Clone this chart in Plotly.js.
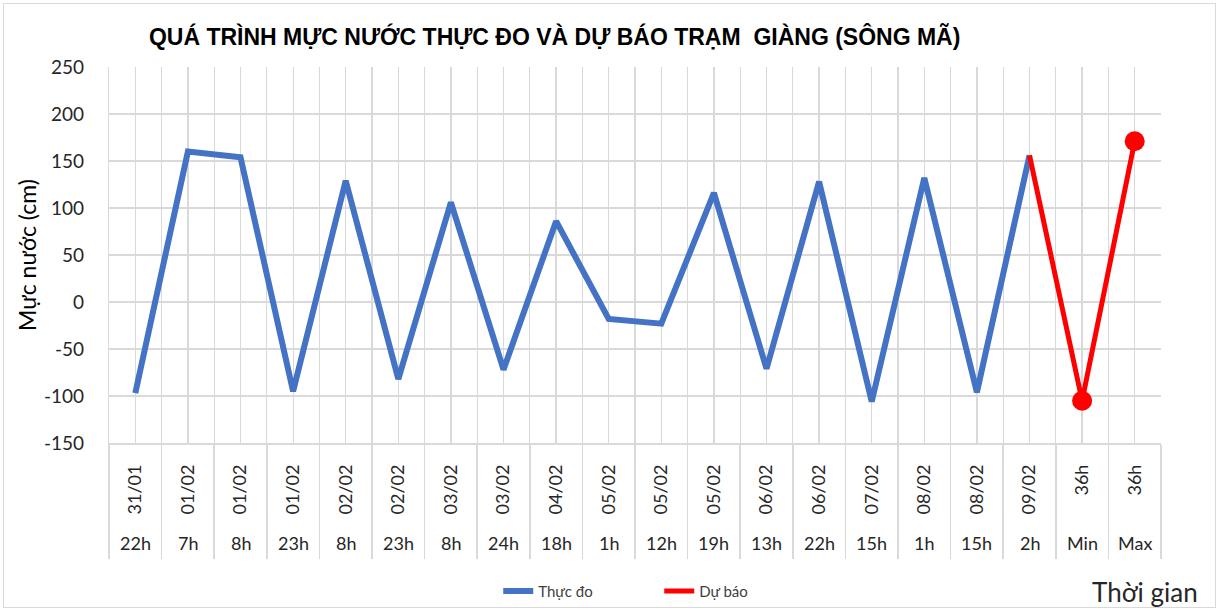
<!DOCTYPE html>
<html>
<head>
<meta charset="utf-8">
<script src="https://cdn.plot.ly/plotly-3.0.1.min.js"></script>
<style>
  html, body { margin: 0; padding: 0; background: #fff; }
  #wrap { position: relative; width: 1219px; height: 609px; }
  #chart { width: 1219px; height: 609px; }
  #frame { position: absolute; left: 3px; top: 3px; width: 1211px; height: 603px; border: 1px solid #d9d9d9; pointer-events: none; }
</style>
</head>
<body>
<div id="wrap"><div id="chart"></div><div id="frame"></div></div>
<script>
// Category labels (two levels)
const dates = ["31/01","01/02","01/02","01/02","02/02","02/02","03/02","03/02","04/02","05/02","05/02","05/02","06/02","06/02","07/02","08/02","08/02","09/02","36h","36h"];
const hours = ["22h","7h","8h","23h","8h","23h","8h","24h","18h","1h","12h","19h","13h","22h","15h","1h","15h","2h","Min","Max"];

// Y tick labels
const yTickVals = [-150, -100, -50, 0, 50, 100, 150, 200, 250];
const yTickText = ["-150", "-100", "-50", "0", "50", "100", "150", "200", "250"];

// Series values (cm)
const thucDo = [-97, 160, 154, -95, 129, -82, 106, -72, 86, -18, -23, 116, -71, 128, -106, 132, -96, 156, null, null];
const duBao  = [null, null, null, null, null, null, null, null, null, null, null, null, null, null, null, null, null, 156, -105, 171];
const duBaoMarker = [0,0,0,0,0,0,0,0,0,0,0,0,0,0,0,0,0,0,20,20];

const idx = dates.map((_, i) => i);
const bounds = [];
for (let i = 0; i <= dates.length; i++) bounds.push(i - 0.5);

const FONT = "Lato, 'Open Sans', sans-serif";

const traces = [
  {
    x: idx, y: thucDo, name: "Thực đo", type: "scatter", mode: "lines",
    line: { color: "#4472C4", width: 6 }, connectgaps: false, xaxis: "x", yaxis: "y"
  },
  {
    x: idx, y: duBao, name: "Dự báo", type: "scatter", mode: "lines+markers",
    line: { color: "#FF0000", width: 5 },
    marker: { color: "#FF0000", size: duBaoMarker, opacity: 1, line: { width: 0 } }, xaxis: "x", yaxis: "y"
  },
  {
    x: idx, y: idx.map(() => null), showlegend: false, hoverinfo: "skip",
    type: "scatter", mode: "lines", xaxis: "x2", yaxis: "y"
  }
];

const annotations = hours.map((h, i) => ({
  x: i, xref: "x", y: -0.266, yref: "paper", text: h, showarrow: false,
  font: { family: FONT, size: 18, color: "#262626" }, xanchor: "center", yanchor: "middle"
}));
annotations.push({
  x: 0.985, xref: "paper", y: -0.397, yref: "paper", text: "Thời gian", showarrow: false,
  font: { family: FONT, size: 26, color: "#262626" }, xanchor: "center", yanchor: "middle"
});

const layout = {
  width: 1219, height: 609,
  margin: { l: 109, r: 58, t: 67, b: 166, autoexpand: false },
  paper_bgcolor: "rgba(0,0,0,0)", plot_bgcolor: "#fff",
  font: { family: FONT, color: "#262626" },
  title: {
    text: "<b>QUÁ TRÌNH MỰC NƯỚC THỰC ĐO VÀ DỰ BÁO TRẠM  GIÀNG (SÔNG MÃ)</b>",
    font: { family: "'Liberation Sans', Arial, sans-serif", size: 23, color: "#000" },
    x: 0.455, xref: "container", xanchor: "center", y: 0.94, yref: "container", yanchor: "middle"
  },
  showlegend: true,
  legend: {
    orientation: "h", x: 0.37, xanchor: "left", y: -0.394, yanchor: "middle",
    font: { family: FONT, size: 15, color: "#404040" },
    entrywidth: 116, entrywidthmode: "pixels"
  },
  xaxis: {
    range: [-0.5, dates.length - 0.5], tickmode: "array", tickvals: bounds,
    ticktext: bounds.map(() => ""), showticklabels: false, automargin: false,
    ticks: "outside", ticklen: 114, tickwidth: 1.5, tickcolor: "#d9d9d9",
    showgrid: true, gridcolor: "#d9d9d9", gridwidth: 1.2,
    showline: true, linecolor: "#d9d9d9", linewidth: 1.5, zeroline: false, fixedrange: true
  },
  xaxis2: {
    overlaying: "x", anchor: "y", side: "bottom", automargin: false,
    range: [-0.5, dates.length - 0.5], tickmode: "array", tickvals: idx, ticktext: dates,
    tickangle: -90, ticks: "", ticklabelstandoff: 17,
    tickfont: { family: FONT, size: 18, color: "#262626" },
    showgrid: true, gridcolor: "#d9d9d9", gridwidth: 1.2, showline: false, zeroline: false
  },
  yaxis: {
    range: [-150, 250], tickmode: "array", tickvals: yTickVals, ticktext: yTickText, automargin: false,
    tickfont: { family: FONT, size: 19, color: "#262626" },
    ticks: "", ticklabelstandoff: 20,
    showgrid: true, gridcolor: "#d9d9d9", gridwidth: 1.2, zeroline: false,
    showline: true, linecolor: "#d9d9d9", linewidth: 1.2,
    title: { text: "Mực nước (cm)", font: { family: FONT, size: 23, color: "#000" }, standoff: 0 },
    fixedrange: true
  },
  annotations: annotations
};

Plotly.newPlot("chart", traces, layout, { displayModeBar: false, staticPlot: true });
</script>
</body>
</html>
